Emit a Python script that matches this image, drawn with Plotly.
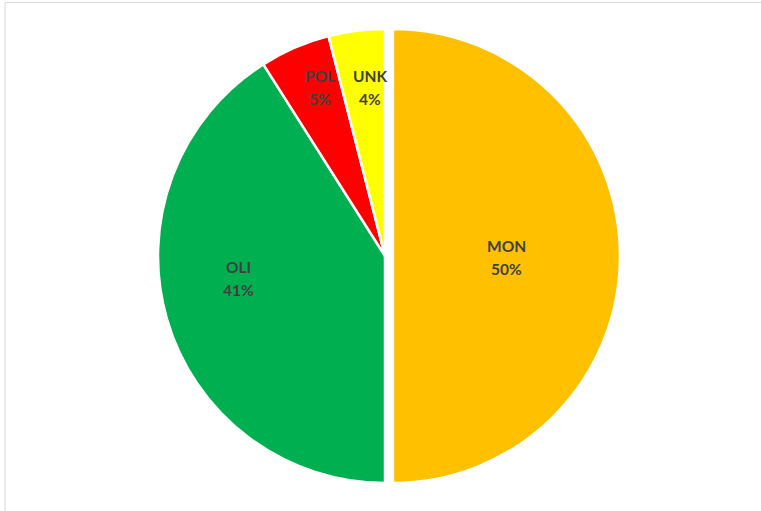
import math
import plotly.graph_objects as go

labels = ["MON", "OLI", "POL", "UNK"]
values = [50, 41, 5, 4]
colors = ["#FFC000", "#00B050", "#FF0000", "#FFFF00"]
pulls = [0.035, 0, 0, 0]

# label placement style (fraction of radius, angular tweak in degrees)
label_r = [0.50, 0.65, 0.80, 0.75]
label_dtheta = [0, 8, 2.5, 2]

W, H = 761, 511
CX, CY, R = 385, 256, 227  # pie geometry in pixels
dom_h = 2 * R * (1 + max(pulls))
dom_y = [(H - CY - dom_h / 2) / H, (H - CY + dom_h / 2) / H]
dom_w = 620
dom_x = [(CX - dom_w / 2) / W, (CX + dom_w / 2) / W]

fig = go.Figure(go.Pie(
    labels=labels,
    values=values,
    sort=False,
    direction="clockwise",
    rotation=0,
    pull=pulls,
    marker=dict(colors=colors, line=dict(color="white", width=2.5)),
    textinfo="none",
    hoverinfo="label+percent",
    domain=dict(x=dom_x, y=dom_y),
    showlegend=False,
))

total = sum(values)
annotations = []
cum = 0
for lab, v, p, fr, dt in zip(labels, values, pulls, label_r, label_dtheta):
    mid = (cum + v / 2) / total * 360
    cum += v
    th = math.radians(mid)
    cx = CX + p * R * math.sin(th)
    cy = CY - p * R * math.cos(th)
    tt = math.radians(mid + dt)
    px = cx + fr * R * math.sin(tt)
    py = cy - fr * R * math.cos(tt) + 1.5
    pct = f"{round(v / total * 100)}%"
    for txt, off in ((lab, -11.5), (pct, 11.5)):
        annotations.append(dict(
            x=px / W, y=1 - (py + off) / H, xref="paper", yref="paper",
            text=txt, showarrow=False, xanchor="center", yanchor="middle",
            font=dict(family="Lato", size=15.5, color="#404040", weight="bold"),
        ))

fig.update_layout(
    width=W, height=H,
    margin=dict(l=0, r=0, t=0, b=0),
    paper_bgcolor="white",
    annotations=annotations,
    shapes=[dict(type="rect", xref="paper", yref="paper",
                 x0=5 / W, x1=1.01, y0=-0.01, y1=1 - 2.5 / H,
                 line=dict(color="#D9D9D9", width=1), fillcolor="rgba(0,0,0,0)")],
)

fig.write_html("out.html", config={"displayModeBar": False},
               post_script="document.body.style.margin='0';")
